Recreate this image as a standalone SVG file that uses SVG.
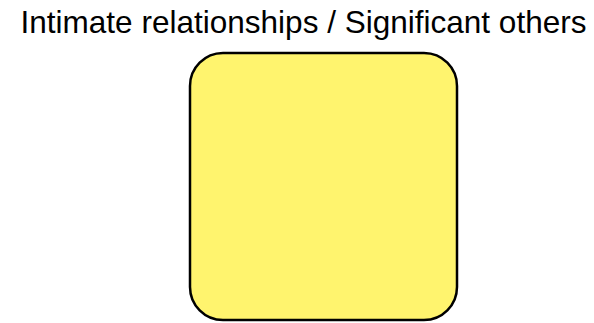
<svg xmlns="http://www.w3.org/2000/svg" width="594" height="323" viewBox="0 0 594 323">
<style>
.title{font-family:"Liberation Sans",Arial,sans-serif;font-size:30.5px;fill:#000}
.node{fill:#fff46e;stroke:#000;stroke-width:2.5}
</style>
<rect width="594" height="323" fill="#fff"/>
<text class="title" x="303.5" y="32.5" text-anchor="middle" textLength="566" lengthAdjust="spacingAndGlyphs">Intimate relationships / Significant others</text>
<g id="node1">
<rect class="node" x="190" y="53" width="267" height="267" rx="33" ry="33"/>
</g>
<g id="connectors"></g>
</svg>
